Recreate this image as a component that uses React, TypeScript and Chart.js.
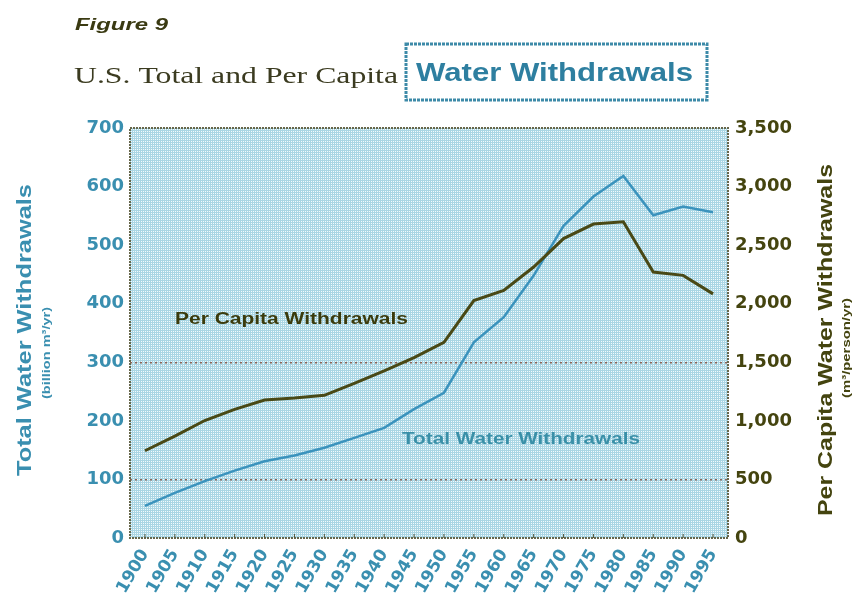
import React, { useEffect, useRef } from "react";
import { Chart, registerables } from "chart.js";

Chart.register(...registerables);

const years = ["1900", "1905", "1910", "1915", "1920", "1925", "1930", "1935", "1940", "1945",
  "1950", "1955", "1960", "1965", "1970", "1975", "1980", "1985", "1990", "1995"];
// billion m3 / yr (left axis)
const totalWithdrawals = [55, 77, 97, 115, 131, 141, 154, 171, 188, 220,
  248, 334, 377, 448, 533, 583, 618, 551, 566, 556];
// m3 / person / yr (right axis)
const perCapitaWithdrawals = [745, 870, 1003, 1098, 1178, 1195, 1218, 1320, 1427, 1540,
  1670, 2027, 2113, 2313, 2556, 2680, 2700, 2270, 2242, 2084];
const gridValues = [100, 300];

const TEAL = "#3a8fb0";
const TEAL_LINE = "#3b93bd";
const OLIVE = "#44440f";
const OLIVE_LINE = "#494916";

function fitText(ctx: CanvasRenderingContext2D, text: string, x: number, y: number, width: number, font: string, color: string) {
  ctx.save();
  ctx.font = font;
  ctx.fillStyle = color;
  ctx.textAlign = "left";
  ctx.textBaseline = "middle";
  const w = ctx.measureText(text).width;
  ctx.translate(x, y);
  ctx.scale(width / w, 1);
  ctx.fillText(text, 0, 0);
  ctx.restore();
}

function fitVText(ctx: CanvasRenderingContext2D, text: string, cx: number, cy: number, len: number, font: string, color: string) {
  ctx.save();
  ctx.font = font;
  ctx.fillStyle = color;
  ctx.textAlign = "center";
  ctx.textBaseline = "middle";
  const w = ctx.measureText(text).width;
  ctx.translate(cx, cy);
  ctx.rotate(-Math.PI / 2);
  ctx.scale(len / w, 1);
  ctx.fillText(text, 0, 0);
  ctx.restore();
}

const decorPlugin = {
  id: "decor",
  beforeDraw(chart: any) {
    const { ctx, chartArea } = chart;
    const { left, top, right, bottom } = chartArea;
    ctx.save();
    ctx.fillStyle = "#ffffff";
    ctx.fillRect(0, 0, chart.width, chart.height);
    const tile = document.createElement("canvas");
    tile.width = 2;
    tile.height = 2;
    const tctx = tile.getContext("2d")!;
    tctx.fillStyle = "rgb(170,214,228)";
    tctx.fillRect(0, 0, 2, 2);
    tctx.fillStyle = "rgb(242,250,252)";
    tctx.fillRect(1, 1, 1, 1);
    const pat = ctx.createPattern(tile, "repeat");
    ctx.fillStyle = pat || "#bcdfe8";
    ctx.fillRect(left, top, right - left, bottom - top);
    ctx.restore();
  },
  afterDraw(chart: any) {
    const { ctx, chartArea } = chart;
    const { left, top, right, bottom } = chartArea;
    ctx.save();
    // plot border
    ctx.strokeStyle = "#66664a";
    ctx.lineWidth = 2;
    ctx.setLineDash([2, 1]);
    ctx.strokeRect(left, top, right - left, bottom - top);
    ctx.setLineDash([]);
    // small inner tick marks on bottom
    const xs = chart.scales.x;
    ctx.strokeStyle = "#55553a";
    ctx.lineWidth = 1;
    for (let i = 0; i < years.length; i++) {
      const px = xs.getPixelForTick(i);
      ctx.beginPath();
      ctx.moveTo(px, bottom);
      ctx.lineTo(px, bottom - 4);
      ctx.stroke();
    }
    ctx.restore();

    // titles
    fitText(ctx, "Figure 9", 75, 25, 93, "italic bold 17px 'Liberation Sans'", "#3a3a12");
    fitText(ctx, "U.S. Total and Per Capita", 74, 77, 324, "24px 'Liberation Serif'", "#3b3b20");
    ctx.save();
    ctx.strokeStyle = "#3d8aa8";
    ctx.lineWidth = 3;
    ctx.setLineDash([3, 1]);
    ctx.strokeRect(406, 44, 301, 56);
    ctx.restore();
    fitText(ctx, "Water Withdrawals", 416, 74, 277, "bold 26px 'Liberation Sans'", "#2e7fa0");

    // axis titles
    fitVText(ctx, "Total Water Withdrawals", 25, 330, 292, "bold 20px 'Liberation Sans'", TEAL);
    fitVText(ctx, "(billion m\u00b3/yr)", 47, 353, 92, "bold 11px 'Liberation Sans'", TEAL);
    fitVText(ctx, "Per Capita Water Withdrawals", 826, 340, 352, "bold 20px 'Liberation Sans'", OLIVE);
    fitVText(ctx, "(m\u00b3/person/yr)", 847, 348, 100, "bold 11px 'Liberation Sans'", OLIVE);

    // series annotations
    fitText(ctx, "Per Capita Withdrawals", 175, 320, 233, "bold 16px 'Liberation Sans'", "#3b3b0c");
    fitText(ctx, "Total Water Withdrawals", 402, 440, 238, "bold 16px 'Liberation Sans'", "#3a90a8");
  },
};

export default function App() {
  const ref = useRef<HTMLCanvasElement>(null);
  useEffect(() => {
    document.body.style.margin = "0";
    const canvas = ref.current!;
    const chart = new Chart(canvas, {
      type: "line",
      data: {
        labels: years,
        datasets: [
          {
            label: "Per Capita Withdrawals",
            data: perCapitaWithdrawals,
            yAxisID: "y1",
            borderColor: OLIVE_LINE,
            borderWidth: 3,
            pointRadius: 0,
            tension: 0,
          },
          {
            label: "Total Water Withdrawals",
            data: totalWithdrawals,
            yAxisID: "y",
            borderColor: TEAL_LINE,
            borderWidth: 2.5,
            pointRadius: 0,
            tension: 0,
          },
        ],
      },
      options: {
        animation: false,
        responsive: false,
        devicePixelRatio: 1,
        layout: { padding: { top: 128, left: 0, right: 0, bottom: 0 } },
        plugins: {
          legend: { display: false },
          tooltip: { enabled: false },
          title: { display: false },
        },
        scales: {
          x: {
            type: "category",
            offset: true,
            grid: { display: false, drawTicks: false },
            border: { display: false },
            ticks: {
              color: TEAL,
              font: { family: "'DejaVu Sans'", weight: "bold", size: 17 },
              minRotation: 60,
              maxRotation: 60,
              autoSkip: false,
              padding: 8,
            },
            afterFit(scale: any) {
              scale.height = 67;
            },
          },
          y: {
            position: "left",
            min: 0,
            max: 700,
            ticks: {
              stepSize: 100,
              color: TEAL,
              font: { family: "'DejaVu Sans'", weight: "bold", size: 18 },
              padding: 6,
            },
            grid: {
              drawTicks: false,
              lineWidth: 1.5,
              color: (c: any) => (gridValues.includes(c.tick?.value) ? "#8a6458" : "rgba(0,0,0,0)"),
            },
            border: { display: false, dash: [2, 3] },
            afterFit(scale: any) {
              scale.width = 130;
            },
          },
          y1: {
            position: "right",
            min: 0,
            max: 3500,
            ticks: {
              stepSize: 500,
              color: OLIVE,
              font: { family: "'DejaVu Sans'", weight: "bold", size: 18 },
              padding: 7,
            },
            grid: { drawOnChartArea: false, drawTicks: false },
            border: { display: false },
            afterFit(scale: any) {
              scale.width = 137;
            },
          },
        },
      },
      plugins: [decorPlugin],
    } as any);
    return () => chart.destroy();
  }, []);
  return (
    <div style={{ position: "absolute", left: 0, top: 0, width: 865, height: 605 }}>
      <canvas ref={ref} width={865} height={605} style={{ display: "block" }} />
    </div>
  );
}
